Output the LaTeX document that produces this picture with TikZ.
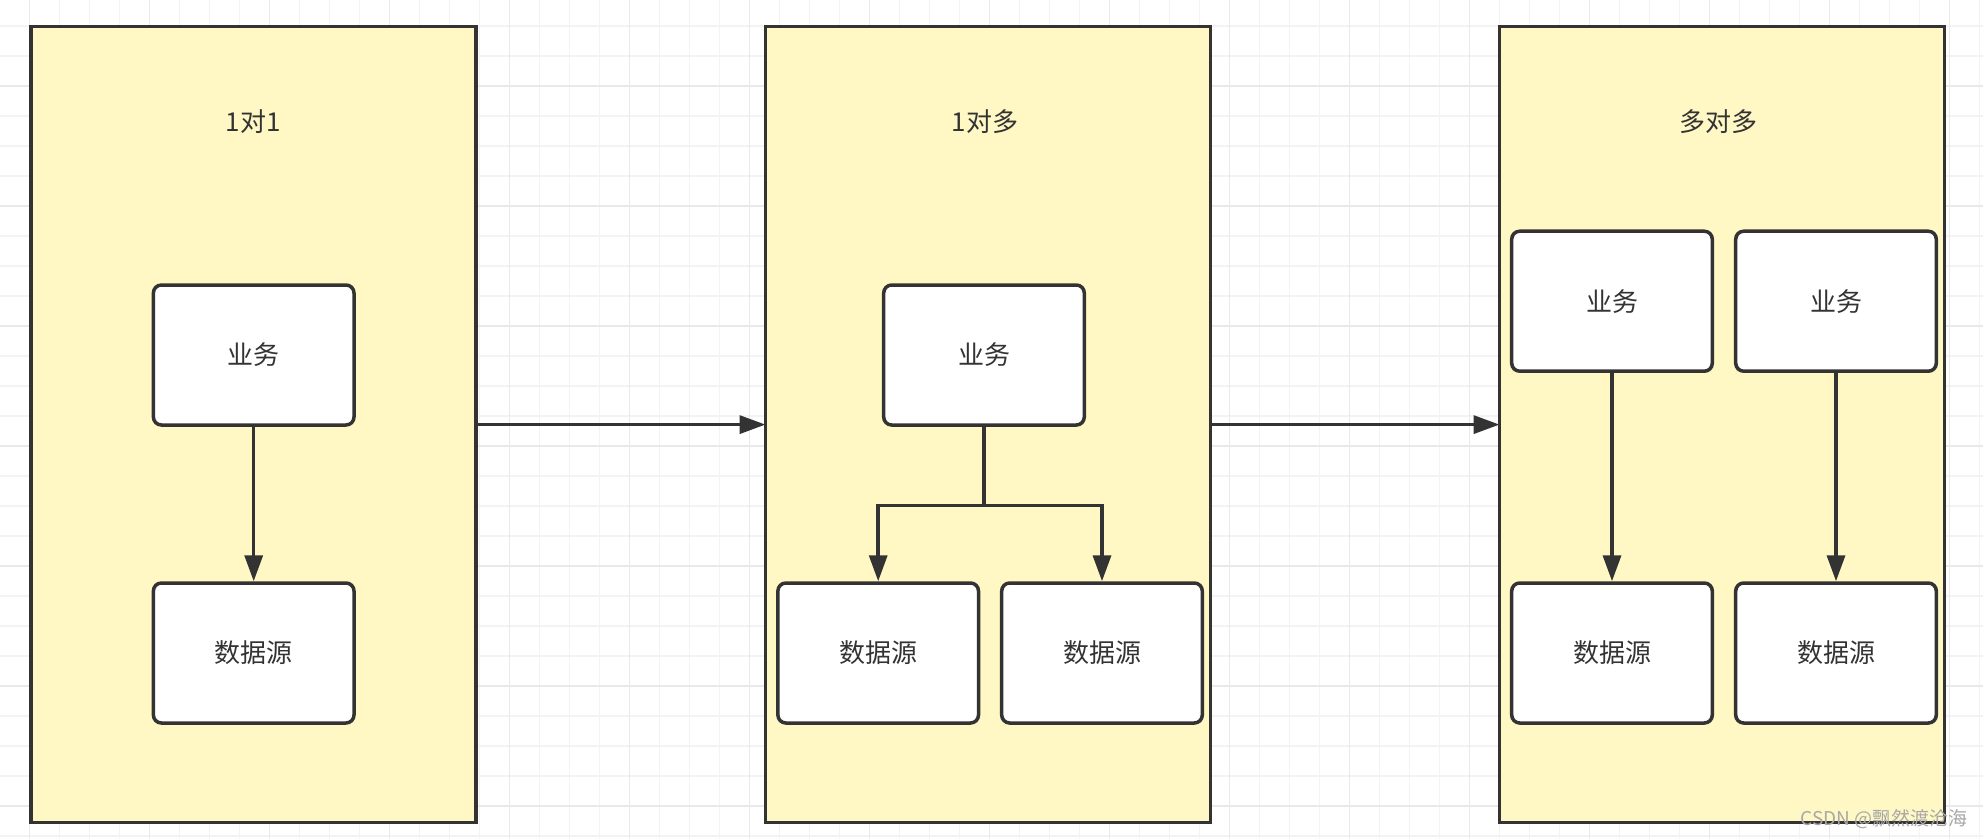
\documentclass[tikz,border=0pt]{standalone}
\usepackage{fontspec}
\setmainfont{Noto Sans CJK SC}
\usetikzlibrary{arrows.meta}
\definecolor{ln}{HTML}{333333}
\definecolor{cfill}{HTML}{FFF8C4}
\definecolor{gminor}{HTML}{F3F3F3}
\definecolor{gmajor}{HTML}{E9E9E9}
\definecolor{wm}{HTML}{A8A8A8}
\begin{document}
\begin{tikzpicture}[x=1pt,y=-1pt,
  container/.style={draw=ln, fill=cfill, line width=3.5pt, minimum width=445pt, minimum height=796pt, inner sep=0pt, outer sep=0pt},
  box/.style={draw=ln, fill=white, line width=3.5pt, rounded corners=8pt, minimum width=200.6pt, minimum height=140pt, inner sep=0pt, font=\fontsize{26}{30}\selectfont, text=ln},
  title/.style={font=\fontsize{26}{30}\selectfont, text=ln, inner sep=0pt},
  conn/.style={draw=ln, line width=3.5pt, -{Triangle[length=26pt,width=18pt]}},
  gridminor/.style={draw=gminor, line width=1.5pt},
  gridmajor/.style={draw=gmajor, line width=1.5pt}
]
\fill[white] (0,0) rectangle (1983,839);
\useasboundingbox (0,0) rectangle (1983,839);
% grid
\foreach \i in {0,...,65} { \draw[gridminor] ({29.3+30*\i},0) -- ({29.3+30*\i},839); }
\foreach \j in {0,...,27} { \draw[gridminor] (0,{26+30*\j}) -- (1983,{26+30*\j}); }
\foreach \i in {0,...,16} { \draw[gridmajor] ({29.3+120*\i},0) -- ({29.3+120*\i},839); }
\foreach \j in {0,...,6} { \draw[gridmajor] (0,{86+120*\j}) -- (1983,{86+120*\j}); }

% containers
\node[container] (c1) at (253.3,424.6) {};
\node[container] (c2) at (988,424.6) {};
\node[container] (c3) at (1722,424.6) {};

% titles
\node[title] (t1) at (253.3,121.5) {1对1};
\node[title] (t2) at (985,121.5) {1对多};
\node[title] (t3) at (1718,122) {多对多};

% container 1
\node[box] (b1) at (253.7,355) {业务};
\node[box] (d1) at (253.7,653) {数据源};
\draw[conn] (b1) -- (d1);

% container 2
\node[box] (b2) at (984,355) {业务};
\node[box] (d2a) at (878.2,653) {数据源};
\node[box] (d2b) at (1102,653) {数据源};
\coordinate (br) at (984,505.3);
\draw[conn] (b2.south) |- (d2a.north |- br) -- (d2a.north);
\draw[conn] (b2.south) |- (d2b.north |- br) -- (d2b.north);

% container 3
\node[box] (b3a) at (1612,301.2) {业务};
\node[box] (b3b) at (1836,301.2) {业务};
\node[box] (d3a) at (1612,653) {数据源};
\node[box] (d3b) at (1836,653) {数据源};
\draw[conn] (b3a) -- (d3a);
\draw[conn] (b3b) -- (d3b);

% between containers
\draw[conn] (c1.east) -- (c2.west);
\draw[conn] (c2.east) -- (c3.west);

% watermark
\node[anchor=east, inner sep=0pt, font=\fontsize{19}{22}\selectfont, text=wm] (wmk) at (1968,819) {CSDN @飘然渡沧海};
\end{tikzpicture}
\end{document}
